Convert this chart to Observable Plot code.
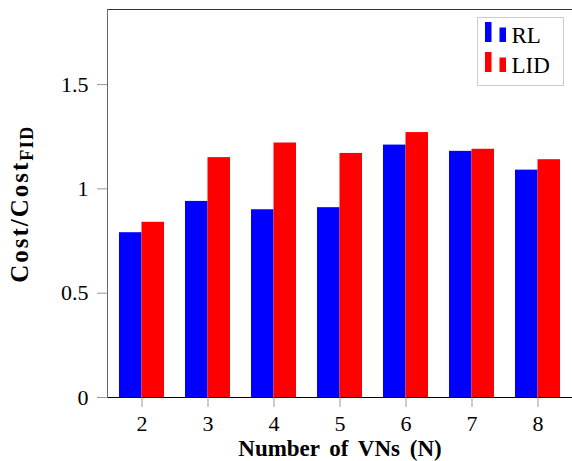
<!DOCTYPE html>
<html><head><meta charset="utf-8">
<script src="https://cdn.jsdelivr.net/npm/d3@7"></script>
<script src="https://cdn.jsdelivr.net/npm/@observablehq/plot@0.6"></script>
<style>body{margin:0;background:#fff} svg{display:block}</style>
</head><body><div id="chart"></div>
<script>
const categories = [2, 3, 4, 5, 6, 7, 8];
const rlValues  = [0.79, 0.94, 0.90, 0.91, 1.21, 1.18, 1.09];
const lidValues = [0.84, 1.15, 1.22, 1.17, 1.27, 1.19, 1.14];
const seriesNames = ["RL", "LID"];
const seriesColors = ["#0000ff", "#ff0000"];
const yTicks = [0, 0.5, 1, 1.5];
const yMax = 1.86;
const xLabel = "Number of VNs (N)";
const yLabelMain = "Cost/Cost";
const yLabelSub = "FID";

const rl = categories.map((n, i) => ({N: n, value: rlValues[i]}));
const lid = categories.map((n, i) => ({N: n, value: lidValues[i]}));

const svg = Plot.plot({
  width: 572, height: 461,
  marginTop: 9, marginBottom: 64, marginLeft: 107, marginRight: 0,
  style: {fontFamily: "Liberation Serif", fontSize: "22px", background: "#fff", color: "#000"},
  x: {type: "band", domain: categories, paddingInner: 0.323, paddingOuter: 0.1615, label: null, axis: null},
  y: {domain: [0, yMax], label: null, axis: null},
  marks: [
    Plot.barY(rl, {x: "N", y: "value", fill: seriesColors[0], insetRight: 22.5}),
    Plot.barY(lid, {x: "N", y: "value", fill: seriesColors[1], insetLeft: 22.5}),
    Plot.ruleY([yMax], {stroke: "#333"}),
    Plot.ruleY([0], {stroke: "#000"}),
    Plot.frame({anchor: "left", stroke: "#666"}),
    Plot.axisX({tickSize: 10, tickPadding: 8, stroke: "#999", fill: "#000", fontSize: 22, label: null}),
    Plot.axisY({ticks: yTicks, tickFormat: d => String(d), tickSize: 10, tickPadding: 9, stroke: "#999", fill: "#000", fontSize: 22, label: null})
  ]
});
document.getElementById("chart").appendChild(svg);

const s = d3.select(svg);
// x label
s.append("text").attr("x", 340).attr("y", 456).attr("text-anchor", "middle")
  .attr("font-family", "Liberation Serif").attr("font-weight", "bold").attr("font-size", 23)
  .attr("word-spacing", "4px").attr("fill", "#000").text(xLabel);
// y label
const yl = s.append("text").attr("transform", "translate(28,204) rotate(-90)").attr("text-anchor", "middle")
  .attr("font-family", "Liberation Serif").attr("font-weight", "bold").attr("font-size", 25)
  .attr("letter-spacing", "2px").attr("fill", "#000");
yl.append("tspan").text(yLabelMain);
yl.append("tspan").attr("dy", "0.3em").attr("font-size", 18).attr("letter-spacing", "1.5px").text(yLabelSub);
// legend
const lg = s.append("g").attr("text-anchor", "start");
lg.append("rect").attr("x", 477.5).attr("y", 17.5).attr("width", 86).attr("height", 68)
  .attr("fill", "#fff").attr("stroke", "#ccc");
seriesNames.forEach((name, i) => {
  const oy = i * 30;
  lg.append("rect").attr("x", 485).attr("y", 22 + oy).attr("width", 6.5).attr("height", 20).attr("fill", seriesColors[i]);
  lg.append("rect").attr("x", 499.5).attr("y", 27.5 + oy).attr("width", 6.5).attr("height", 14.5).attr("fill", seriesColors[i]);
  lg.append("text").attr("x", 511.5).attr("y", 42.5 + oy).attr("text-anchor", "start").attr("font-family", "Liberation Serif")
    .attr("font-size", 23).attr("fill", "#000").text(name);
});
</script></body></html>
